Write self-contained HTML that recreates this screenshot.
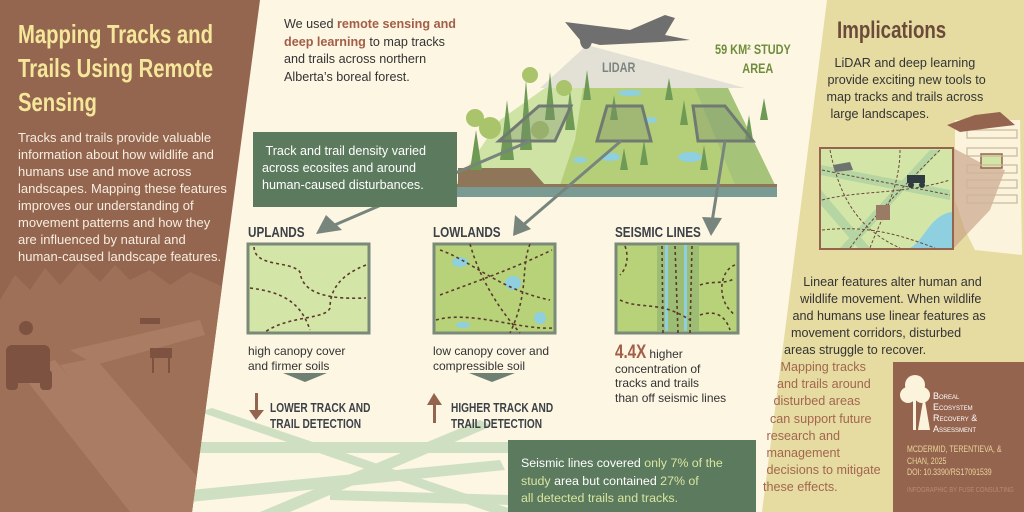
<!DOCTYPE html>
<html><head><meta charset="utf-8"><style>
*{margin:0;padding:0;box-sizing:border-box}
body{width:1024px;height:512px;overflow:hidden;background:#fcf6e3;position:relative;font-family:"Liberation Sans",sans-serif}
.t{position:absolute;white-space:nowrap}
.n{font-weight:bold;transform:scaleX(.78);transform-origin:0 0}
svg{position:absolute;left:0;top:0}
</style></head><body>
<svg width="1024" height="512" viewBox="0 0 1024 512">
<defs><clipPath id="lp"><polygon points="0,0 260,0 192,512 0,512"/></clipPath></defs>
<g fill="#cfe0c2">
<polygon points="195,442 510,442 510,453 193,453"/>
<polygon points="200,412 212,408 520,512 490,512"/>
<polygon points="190,490 500,460 505,470 190,502"/>
<polygon points="260,512 480,420 492,426 290,512"/>
<polygon points="330,490 510,495 510,505 330,500"/>
</g>
<polygon points="827,0 1024,0 1024,512 762,512" fill="#e6dca2"/>
<polygon points="0,0 260,0 192,512 0,512" fill="#94654f"/>
<g clip-path="url(#lp)">
<g fill="#9f7058">
<polygon points="0,300 15,275 30,290 45,268 60,285 80,262 100,282 115,265 130,280 150,270 170,285 190,272 230,290 230,512 0,512"/>
</g>
<g fill="#a97c63">
<polygon points="70,350 200,320 205,335 95,365"/>
<polygon points="20,372 55,360 180,512 130,512"/>
<polygon points="60,365 95,358 200,480 200,512 170,512"/>
</g>
<g fill="#7d5241">
<rect x="6" y="345" width="44" height="38" rx="6"/>
<circle cx="26" cy="328" r="7"/>
<rect x="6" y="370" width="12" height="20" rx="4"/><rect x="40" y="370" width="12" height="20" rx="4"/>
<rect x="140" y="318" width="20" height="6"/>
<rect x="150" y="348" width="22" height="10"/><rect x="152" y="355" width="2" height="18"/><rect x="168" y="355" width="2" height="18"/>
</g>
</g>
<polygon points="540,88 587,45 745,88" fill="#e3e1d6"/>
<polygon points="455,185 500,120 545,88 590,88 590,185" fill="#cfe3a5"/>
<polygon points="583,88 728,88 775,185 560,185 575,140" fill="#b5cf78"/>
<polygon points="695,88 728,88 775,185 735,185" fill="#a5c47a"/>
<polygon points="458,168 530,168 545,185 458,185" fill="#8f7658"/>
<rect x="455" y="184" width="322" height="3" fill="#8f7658"/>
<rect x="455" y="187" width="322" height="10" fill="#7a9a94"/>
<g fill="#6e9a55">
<polygon points="470,170 476,130 482,170"/><polygon points="500,160 507,100 514,160"/><polygon points="520,150 526,80 532,150"/><polygon points="545,120 550,72 555,120"/><polygon points="565,130 570,90 575,130"/><polygon points="583,100 587,70 591,100"/>
<polygon points="610,120 614,95 618,120"/><polygon points="640,165 644,140 648,165"/><polygon points="680,125 684,100 688,125"/><polygon points="700,170 704,145 708,170"/><polygon points="745,140 749,115 753,140"/><polygon points="620,170 624,148 628,170"/><polygon points="665,100 669,78 673,100"/><polygon points="760,120 764,98 768,120"/>
</g>
<g fill="#a9c46a"><circle cx="475" cy="118" r="9"/><circle cx="490" cy="128" r="11"/><circle cx="530" cy="75" r="8"/><circle cx="564" cy="88" r="8"/><circle cx="540" cy="130" r="9"/></g>
<g fill="#8ecfe0"><ellipse cx="610" cy="157" rx="10" ry="4"/><ellipse cx="690" cy="157" rx="12" ry="5"/><ellipse cx="650" cy="120" rx="7" ry="3"/><ellipse cx="630" cy="93" rx="12" ry="3"/><ellipse cx="580" cy="160" rx="7" ry="3"/></g>
<g fill="rgba(120,140,110,0.35)" stroke="#707a72" stroke-width="3">
<polygon points="539,106 571,106 555,141 499,141"/>
<polygon points="607,106 642,106 651,141 597,141"/>
<polygon points="693,106 725,106 753,141 698,141"/>
</g>
<g fill="#6f6f6f"><polygon points="565,22 630,30 665,15 675,18 665,35 690,40 660,42 600,45 580,40"/><ellipse cx="586" cy="40" rx="6" ry="9"/></g>
<g stroke="#77857d" stroke-width="3" fill="none">
<line x1="530" y1="141" x2="330" y2="227"/>
<line x1="621" y1="141" x2="522" y2="226"/>
<line x1="725" y1="141" x2="712" y2="222"/>
</g>
<g fill="#77857d">
<polygon points="316,234 326,215 342,230"/>
<polygon points="513,236 515,215 531,229"/>
<polygon points="711,236 702,217 722,218"/>
</g>
<rect x="248" y="244" width="121" height="89" fill="#d4e5a8" stroke="#7a8a78" stroke-width="3"/>
<rect x="434" y="244" width="121" height="89" fill="#b8d27a" stroke="#7a8a78" stroke-width="3"/>
<rect x="616" y="244" width="122" height="89" fill="#b8d27a" stroke="#7a8a78" stroke-width="3"/>
<rect x="657" y="245" width="42" height="86" fill="#9dbd74"/>
<g fill="#8ecfe0"><ellipse cx="460" cy="262" rx="8" ry="5"/><ellipse cx="513" cy="283" rx="8" ry="7"/><ellipse cx="540" cy="318" rx="6" ry="6"/><ellipse cx="463" cy="325" rx="7" ry="3"/><rect x="665" y="245" width="3" height="86"/><rect x="684" y="245" width="3" height="86"/></g>
<g stroke="#5b3a2e" stroke-width="1.6" stroke-dasharray="3,3" fill="none">
<path d="M254,247 C255,268 290,260 300,272 C302,290 320,300 366,298"/>
<path d="M250,288 C280,292 300,300 310,330"/>
<path d="M366,265 C340,275 330,290 330,308 C325,320 290,315 265,332"/>
<path d="M440,250 C470,260 500,290 550,300"/><path d="M440,295 C480,280 510,270 552,250"/><path d="M470,244 C480,280 500,310 520,333"/><path d="M436,320 C470,310 520,330 552,328"/><path d="M530,244 C520,270 530,290 510,333"/>
<path d="M625,246 C630,260 625,270 620,275"/><path d="M620,300 C640,310 660,300 690,320"/><path d="M735,265 C720,270 715,300 735,315"/><path d="M700,285 C715,280 725,285 735,278"/><path d="M662,246 L663,333"/><path d="M675,246 L678,333"/><path d="M692,246 L690,333"/><path d="M700,315 C715,310 725,315 730,330"/>
</g>
<g fill="#6e7f74"><polygon points="283,373 327,373 305,382"/><polygon points="469,373 515,373 492,382"/></g>
<g fill="#95644f"><rect x="255" y="393" width="3" height="20"/><polygon points="249,410 264,410 256,420"/><rect x="433" y="403" width="3" height="20"/><polygon points="427,405 442,405 434,393"/></g>
<rect x="253" y="132" width="204" height="75" fill="#5c7a5e"/>
<rect x="508" y="440" width="248" height="72" fill="#5c7a5e"/>
<polygon points="955,120 1020,120 1022,255 975,250 965,230 955,200" fill="#fbf3dc"/>
<polygon points="953,148 985,165 1005,170 990,210 953,249" fill="#c59a80" opacity="0.6"/>
<rect x="981" y="154" width="21" height="14" fill="#d4e5a8" stroke="#95644f" stroke-width="1.5"/>
<g fill="none" stroke="#c9b89a" stroke-width="1.2"><rect x="967" y="130" width="50" height="8"/><rect x="967" y="148" width="50" height="8"/><rect x="967" y="165" width="50" height="8"/><rect x="967" y="180" width="50" height="8"/><rect x="967" y="195" width="50" height="8"/></g>
<polygon points="947,125 975,115 1000,112 1015,125 990,128 960,132" fill="#95644f"/>
<rect x="820" y="148" width="133" height="101" fill="#d4e5a8" stroke="#95644f" stroke-width="2"/>
<g fill="#a9cfa0" opacity="0.7"><polygon points="821,165 950,190 950,200 821,175"/><polygon points="840,248 930,150 940,150 852,248"/><polygon points="821,190 870,248 858,248 821,205"/></g>
<path d="M952,212 C930,215 925,240 910,248 L952,248 Z" fill="#8ecfe0"/>
<g stroke="#6b4a3a" stroke-width="1" stroke-dasharray="3,2" fill="none"><path d="M822,170 C870,180 900,185 950,195"/><path d="M822,200 C860,190 900,195 950,180"/><path d="M850,248 C870,220 900,190 940,150"/><path d="M830,150 C840,200 860,230 900,248"/><path d="M822,230 C870,225 900,235 935,248"/><path d="M900,150 C900,190 880,220 870,248"/></g>
<path d="M833,165 L850,162 L853,170 L835,172 Z" fill="#6e7370"/>
<rect x="907" y="175" width="18" height="8" fill="#2f3b40"/><circle cx="911" cy="185" r="3" fill="#2f3b40"/><circle cx="922" cy="185" r="3" fill="#2f3b40"/>
<path d="M876,205 L890,205 L890,220 L876,220 Z" fill="#9a7c66"/>
<rect x="893" y="362" width="131" height="150" fill="#95644f"/>
<g fill="#fbf3dc"><circle cx="915" cy="385" r="10"/><circle cx="908" cy="395" r="8"/><circle cx="922" cy="395" r="8"/><rect x="913" y="390" width="3" height="40"/><polygon points="918,430 924,395 930,430"/></g>
</svg>

<div class="t n" style="left:18px;top:17px;font-size:26px;line-height:34px;color:#f5e79a">Mapping Tracks and<br>Trails Using Remote<br>Sensing</div>
<div class="t" style="left:18px;top:129px;font-size:13px;line-height:17px;color:#f7eee0">Tracks and trails provide valuable<br>information about how wildlife and<br>humans use and move across<br>landscapes. Mapping these features<br>improves our understanding of<br>movement patterns and how they<br>are influenced by natural and<br>human-caused landscape features.</div>

<div class="t" style="left:284px;top:16px;font-size:12.6px;line-height:17.5px;color:#333">We used <b style="color:#a35e47">remote sensing and</b><br><b style="color:#a35e47">deep learning</b> to map tracks<br>and trails across northern<br>Alberta’s boreal forest.</div>
<div class="t n" style="left:602px;top:59px;font-size:14px;color:#7a8580">LIDAR</div>
<div class="t n" style="left:715px;top:40px;font-size:14px;line-height:19px;color:#6f8d3c">59 KM² STUDY<br>&nbsp;&nbsp;&nbsp;&nbsp;&nbsp;&nbsp;&nbsp;&nbsp;&nbsp;AREA</div>
<div class="t" style="left:262px;top:143px;font-size:12.6px;line-height:17px;color:#fff">&nbsp;Track and trail density varied<br>across ecosites and around<br>human-caused disturbances.</div>

<div class="t n" style="left:248px;top:224px;font-size:15px;color:#3c4148">UPLANDS</div>
<div class="t n" style="left:433px;top:224px;font-size:15px;color:#3c4148">LOWLANDS</div>
<div class="t n" style="left:615px;top:224px;font-size:15px;color:#3c4148">SEISMIC LINES</div>

<div class="t" style="left:248px;top:344px;font-size:12px;line-height:14.5px;color:#333">high canopy cover<br>and firmer soils</div>
<div class="t" style="left:433px;top:344px;font-size:12px;line-height:14.5px;color:#333">low canopy cover and<br>compressible soil</div>
<div class="t" style="left:615px;top:346px;font-size:12px;line-height:14.5px;color:#333"><span style="font-size:19px;color:#a35e47;font-weight:bold;display:inline-block;transform:scaleX(.8);transform-origin:0 0;margin-right:-8px">4.4X</span> higher<br>concentration of<br>tracks and trails<br>than off seismic lines</div>

<div class="t n" style="left:270px;top:400px;font-size:13px;line-height:16px;color:#3c4148">LOWER TRACK AND<br>TRAIL DETECTION</div>
<div class="t n" style="left:451px;top:400px;font-size:13px;line-height:16px;color:#3c4148">HIGHER TRACK AND<br>TRAIL DETECTION</div>

<div class="t" style="left:521px;top:455px;font-size:12.4px;line-height:17.5px;color:#fff">Seismic lines covered <span style="color:#d8e6a0">only 7% of the</span><br><span style="color:#d8e6a0">study</span> area but contained <span style="color:#d8e6a0">27% of</span><br><span style="color:#d8e6a0">all detected trails and tracks.</span></div>

<div class="t n" style="left:837px;top:17px;font-size:24px;color:#6b4a3a">Implications</div>
<div class="t" style="left:824px;top:55px;font-size:12.6px;line-height:17px;color:#333;text-align:center">LiDAR and deep learning<br>&nbsp;provide exciting new tools to<br>map tracks and trails across<br><span style="margin-right:50px">large landscapes.</span></div>
<div class="t" style="left:784px;top:274px;font-size:12.6px;line-height:17px;color:#333;text-align:center">&nbsp;&nbsp;Linear features alter human and<br>&nbsp;wildlife movement. When wildlife<br>and humans use linear features as<br><span style="margin-right:26px">movement corridors, disturbed</span><br><span style="margin-right:68px">areas struggle to recover.</span></div>
<div class="t" style="left:763px;top:359px;font-size:12.6px;line-height:17.2px;color:#a2664e">&nbsp;&nbsp;&nbsp;&nbsp;&nbsp;Mapping tracks<br>&nbsp;&nbsp;&nbsp;&nbsp;and trails around<br>&nbsp;&nbsp;&nbsp;disturbed areas<br>&nbsp;&nbsp;can support future<br>&nbsp;research and<br>&nbsp;management<br>&nbsp;decisions to mitigate<br>these effects.</div>

<div class="t" style="left:933px;top:391px;font-size:9px;line-height:11px;color:#fff;font-variant:small-caps">Boreal<br>Ecosystem<br>Recovery &amp;<br>Assessment</div>
<div class="t n" style="left:907px;top:444px;font-size:9px;line-height:11.5px;color:#e8d59a;font-weight:normal">MCDERMID, TERENTIEVA, &amp;<br>CHAN, 2025<br>DOI: 10.3390/RS17091539</div>
<div class="t n" style="left:907px;top:485px;font-size:7.5px;color:#b88a70;font-weight:normal">INFOGRAPHIC BY FUSE CONSULTING</div>
</body></html>
